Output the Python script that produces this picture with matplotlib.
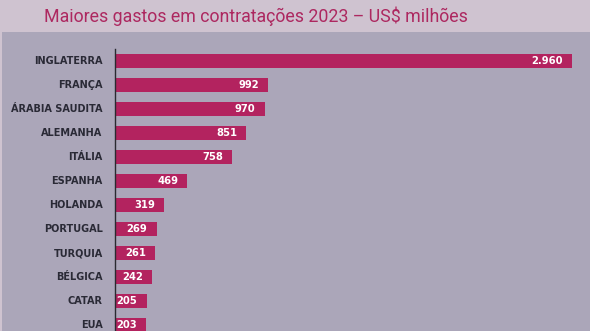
import matplotlib.pyplot as plt
from matplotlib.patches import Rectangle

# data
countries = ["INGLATERRA", "FRANÇA", "ÁRABIA SAUDITA", "ALEMANHA", "ITÁLIA", "ESPANHA",
             "HOLANDA", "PORTUGAL", "TURQUIA", "BÉLGICA", "CATAR", "EUA"]
values = [2960, 992, 970, 851, 758, 469, 319, 269, 261, 242, 205, 203]
title = "Maiores gastos em contratações 2023 – US$ milhões"

bar_color = "#b3235f"
panel_color = "#aba6b9"
band_color = "#cfc3d0"
text_dark = "#2a2a36"

W, H = 590, 331
fig = plt.figure(figsize=(W / 100, H / 100), dpi=100)
fig.patch.set_facecolor(band_color)

# grey panel behind the chart
bg = fig.add_axes([2 / W, 0, 1 - 2 / W, (H - 32) / H])
bg.axis("off")
bg.add_patch(Rectangle((0, 0), 1, 1, transform=bg.transAxes, facecolor=panel_color,
                       edgecolor="none"))

fig.text(256 / W, 1 - 16 / H, title, ha="center", va="center", fontsize=12.8,
         color="#ad2860", family="Roboto")

ax = fig.add_axes([115 / W, 0, 475 / W, (H - 49) / H])
ax.set_facecolor("none")
y = list(range(len(countries)))
ax.barh(y, values, height=0.58, color=bar_color, edgecolor="none")
ax.set_xlim(0, 475 / 0.1544)
ax.set_ylim(11.25, -0.5)

for yi, v in zip(y, values):
    lbl = f"{v:,}".replace(",", ".")
    ax.text(v - 60, yi, lbl, ha="right", va="center", color="white",
            fontsize=7.2, fontweight="bold")
    ax.text(-80, yi, countries[yi], ha="right", va="center", color=text_dark,
            fontsize=7.0, fontweight="bold")

for s in ["top", "right", "bottom"]:
    ax.spines[s].set_visible(False)
ax.spines["left"].set_color("#2a2a30")
ax.spines["left"].set_linewidth(1.0)
ax.set_xticks([])
ax.set_yticks([])

fig.savefig("out.png", dpi=100, facecolor=fig.get_facecolor())
